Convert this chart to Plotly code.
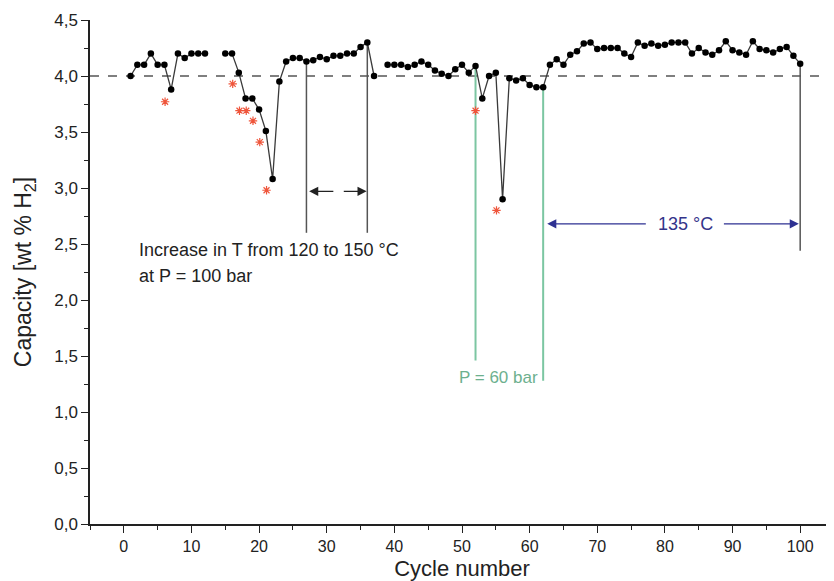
import plotly.graph_objects as go

# ---- data ----
cycles = list(range(1, 101))
capacity = [
    4.00, 4.10, 4.10, 4.20, 4.10, 4.10, 3.88, 4.20, 4.16, 4.20,   # 1-10
    4.20, 4.20, None, None, 4.20, 4.20, 4.03, 3.80, 3.80, 3.70,   # 11-20
    3.51, 3.08, 3.95, 4.13, 4.16, 4.16, 4.13, 4.14, 4.17, 4.15,   # 21-30
    4.18, 4.18, 4.20, 4.20, 4.26, 4.30, 4.00, None, 4.10, 4.10,   # 31-40
    4.10, 4.08, 4.10, 4.13, 4.10, 4.05, 4.02, 4.00, 4.06, 4.10,   # 41-50
    4.03, 4.09, 3.80, 4.00, 4.03, 2.90, 3.98, 3.96, 3.98, 3.92,   # 51-60
    3.90, 3.90, 4.10, 4.15, 4.10, 4.19, 4.22, 4.29, 4.30, 4.24,   # 61-70
    4.25, 4.25, 4.25, 4.20, 4.17, 4.30, 4.27, 4.29, 4.27, 4.28,   # 71-80
    4.30, 4.30, 4.30, 4.20, 4.25, 4.21, 4.19, 4.23, 4.31, 4.23,   # 81-90
    4.21, 4.19, 4.31, 4.24, 4.23, 4.21, 4.24, 4.26, 4.18, 4.11,   # 91-100
]

star_x = [6.1, 16.1, 17.1, 18.1, 19.1, 20.1, 21.1, 52.0, 55.1]
star_y = [3.77, 3.93, 3.69, 3.69, 3.60, 3.41, 2.98, 3.69, 2.80]

reference_level = 4.0

x_ticks = [0, 10, 20, 30, 40, 50, 60, 70, 80, 90, 100]
y_ticks = [0.0, 0.5, 1.0, 1.5, 2.0, 2.5, 3.0, 3.5, 4.0, 4.5]
y_tick_labels = ["0,0", "0,5", "1,0", "1,5", "2,0", "2,5", "3,0", "3,5", "4,0", "4,5"]

# marker lines: (cycle, bottom value)
black_lines = [(27, 2.60), (36, 2.60), (100, 2.44)]
green_lines = [(52, 1.46), (62, 1.28)]

FONT = "Liberation Sans, Arial, sans-serif"

fig = go.Figure()

# dashed reference line
fig.add_shape(type="line", xref="paper", x0=0, x1=1, yref="y",
              y0=reference_level, y1=reference_level,
              line=dict(color="black", width=1.2, dash="dash"), layer="below")

cap_by_cycle = dict(zip(cycles, capacity))
for c, yb in black_lines:
    fig.add_shape(type="line", xref="x", yref="y", x0=c, x1=c,
                  y0=cap_by_cycle[c], y1=yb,
                  line=dict(color="#555555", width=1.5), layer="below")
for c, yb in green_lines:
    fig.add_shape(type="line", xref="x", yref="y", x0=c, x1=c,
                  y0=cap_by_cycle[c], y1=yb,
                  line=dict(color="#7cc6a2", width=2), layer="below")

fig.add_trace(go.Scatter(
    x=cycles, y=capacity, mode="lines+markers",
    line=dict(color="#3a3a3a", width=1.3),
    marker=dict(color="black", size=6.5),
    connectgaps=False, showlegend=False,
))

fig.add_trace(go.Scatter(
    x=star_x, y=star_y, mode="markers",
    marker=dict(symbol="asterisk-open", size=7,
                line=dict(color="#e27a6a", width=1.2)),
    showlegend=False,
))

# black arrows (temperature increase)
fig.add_annotation(x=27.4, y=2.97, ax=31.2, ay=2.97, xref="x", yref="y",
                   axref="x", ayref="y", text="", showarrow=True,
                   arrowhead=2, arrowsize=1.4, arrowwidth=1.3, arrowcolor="#222")
fig.add_annotation(x=35.9, y=2.97, ax=32.3, ay=2.97, xref="x", yref="y",
                   axref="x", ayref="y", text="", showarrow=True,
                   arrowhead=2, arrowsize=1.4, arrowwidth=1.3, arrowcolor="#222")

fig.add_annotation(x=2.0, y=2.45, xref="x", yref="y", xanchor="left",
                   text="Increase in T from 120 to 150 °C", showarrow=False,
                   font=dict(family=FONT, size=18, color="#222"))
fig.add_annotation(x=2.0, y=2.21, xref="x", yref="y", xanchor="left",
                   text="at P = 100 bar", showarrow=False,
                   font=dict(family=FONT, size=18, color="#222"))

# blue arrows (135 °C)
fig.add_annotation(x=62.6, y=2.68, ax=77.4, ay=2.68, xref="x", yref="y",
                   axref="x", ayref="y", text="", showarrow=True,
                   arrowhead=2, arrowsize=1.4, arrowwidth=1.3, arrowcolor="#2e3192")
fig.add_annotation(x=99.8, y=2.68, ax=88.5, ay=2.68, xref="x", yref="y",
                   axref="x", ayref="y", text="", showarrow=True,
                   arrowhead=2, arrowsize=1.4, arrowwidth=1.3, arrowcolor="#2e3192")
fig.add_annotation(x=83.1, y=2.68, xref="x", yref="y", text="135 °C",
                   showarrow=False,
                   font=dict(family=FONT, size=18, color="#33338a"))

fig.add_annotation(x=49.3, y=1.31, xref="x", yref="y", xanchor="left",
                   text="P = 60 bar", showarrow=False,
                   font=dict(family=FONT, size=17, color="#6db08e"))

# the page body has an 8px margin, so the figure is sized to fit the window
fig.update_layout(
    width=826, height=573,
    margin=dict(l=82, r=0, t=12, b=57),
    paper_bgcolor="white", plot_bgcolor="white",
    font=dict(family=FONT, color="#222"),
    xaxis=dict(
        range=[-5, 105], tickvals=x_ticks, ticks="outside", ticklen=7,
        tickwidth=1.3, tickcolor="#222", automargin=False,
        minor=dict(dtick=5, tick0=0, ticks="outside", ticklen=4,
                   tickwidth=1.3, tickcolor="#222"),
        showline=True, linecolor="#222", linewidth=1.5, showgrid=False,
        zeroline=False, tickfont=dict(size=16, family=FONT),
        title=dict(text="Cycle number", font=dict(size=22, family=FONT),
                   standoff=10),
    ),
    yaxis=dict(
        range=[0, 4.5], tickvals=y_ticks, ticktext=y_tick_labels,
        ticks="outside", ticklen=7, tickwidth=1.3, tickcolor="#222",
        automargin=False,
        minor=dict(dtick=0.25, tick0=0, ticks="outside", ticklen=4,
                   tickwidth=1.3, tickcolor="#222"),
        showline=True, linecolor="#222", linewidth=1.5, showgrid=False,
        zeroline=False, tickfont=dict(size=17, family=FONT),
        title=dict(text="Capacity [wt % H<sub>2</sub>]",
                   font=dict(size=23, family=FONT), standoff=16),
    ),
)

fig.write_html("out.html")
